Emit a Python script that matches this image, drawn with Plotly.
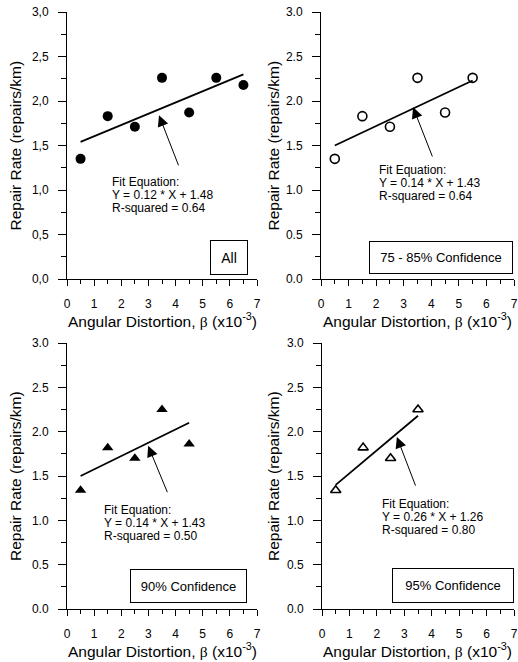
import plotly.graph_objects as go

# ---------------- data ----------------
x_all = [0.5, 1.5, 2.5, 3.5, 4.5, 5.5, 6.5]
y_all = [1.35, 1.83, 1.71, 2.26, 1.87, 2.26, 2.18]
fit_all_x = [0.5, 6.5]
fit_all_y = [1.54, 2.30]

x_75 = [0.5, 1.5, 2.5, 3.5, 4.5, 5.5]
y_75 = [1.35, 1.83, 1.71, 2.26, 1.87, 2.26]
fit_75_x = [0.5, 5.5]
fit_75_y = [1.50, 2.23]

x_90 = [0.5, 1.5, 2.5, 3.5, 4.5]
y_90 = [1.34, 1.82, 1.70, 2.25, 1.86]
fit_90_x = [0.5, 4.5]
fit_90_y = [1.50, 2.10]

x_95 = [0.5, 1.5, 2.5, 3.5]
y_95 = [1.34, 1.82, 1.70, 2.25]
fit_95_x = [0.5, 3.5]
fit_95_y = [1.40, 2.18]

x_ticks = [0, 1, 2, 3, 4, 5, 6, 7]
y_ticks = [0.0, 0.5, 1.0, 1.5, 2.0, 2.5, 3.0]
y_ticktext_comma = ["0,0", "0,5", "1,0", "1,5", "2,0", "2,5", "3,0"]
y_ticktext_dot = ["0.0", "0.5", "1.0", "1.5", "2.0", "2.5", "3.0"]

eq_lines = [
    ["Fit Equation:", "Y = 0.12 * X + 1.48", "R-squared = 0.64"],
    ["Fit Equation:", "Y = 0.14 * X + 1.43", "R-squared = 0.64"],
    ["Fit Equation:", "Y = 0.14 * X + 1.43", "R-squared = 0.50"],
    ["Fit Equation:", "Y = 0.26 * X + 1.26", "R-squared = 0.80"],
]
box_labels = ["All", "75 - 85% Confidence", "90% Confidence", "95% Confidence"]

FONT = "Liberation Sans, Arial, sans-serif"

fig = go.Figure()

panels = [
    dict(x=x_all, y=y_all, fx=fit_all_x, fy=fit_all_y, sym="circle", msize=10, open=False),
    dict(x=x_75, y=y_75, fx=fit_75_x, fy=fit_75_y, sym="circle-open", msize=9, open=True),
    dict(x=x_90, y=y_90, fx=fit_90_x, fy=fit_90_y, sym="triangle-up", msize=10, open=False),
    dict(x=x_95, y=y_95, fx=fit_95_x, fy=fit_95_y, sym="triangle-up-open", msize=9, open=True),
]

for i, p in enumerate(panels):
    n = "" if i == 0 else str(i + 1)
    fig.add_trace(go.Scatter(x=p["fx"], y=p["fy"], mode="lines",
                             line=dict(color="black", width=1.8),
                             xaxis="x" + n, yaxis="y" + n, showlegend=False, hoverinfo="skip"))
    fig.add_trace(go.Scatter(x=p["x"], y=p["y"], mode="markers",
                             marker=dict(symbol=p["sym"], size=p["msize"], color="black",
                                         line=dict(color="black", width=1.6 if p["open"] else 0)),
                             xaxis="x" + n, yaxis="y" + n, showlegend=False, cliponaxis=False))

xdomains = [[67/518, 257/518], [321/518, 514/518], [67/518, 257/518], [322/518, 514/518]]
ydomains = [[1-279/662, 1-12/662], [1-279/662, 1-12/662], [1-609/662, 1-343/662], [1-609/662, 1-343/662]]

layout = dict(
    width=518, height=662,
    margin=dict(l=0, r=0, t=0, b=0),
    paper_bgcolor="white", plot_bgcolor="white",
    font=dict(family=FONT, color="black", size=12),
    showlegend=False,
)

for i in range(4):
    n = "" if i == 0 else str(i + 1)
    layout["xaxis" + n] = dict(
        domain=xdomains[i], anchor="y" + n, range=[0, 7], automargin=False,
        tickvals=x_ticks, ticks="outside", ticklen=6, tickwidth=1, tickcolor="black",
        showline=True, linecolor="black", linewidth=1, showgrid=False, zeroline=False,
        tickfont=dict(size=12, family=FONT), ticklabelstandoff=8,
        minor=dict(dtick=0.5, tick0=0, ticks="outside", ticklen=4, tickwidth=1, tickcolor="black", showgrid=False),
    )
    layout["yaxis" + n] = dict(
        domain=ydomains[i], anchor="x" + n, range=[0, 3], automargin=False,
        tickvals=y_ticks, ticktext=y_ticktext_comma if i == 0 else y_ticktext_dot,
        ticks="outside", ticklen=8, tickwidth=1, tickcolor="black",
        showline=True, linecolor="black", linewidth=1, showgrid=False, zeroline=False,
        tickfont=dict(size=12, family=FONT), ticklabelstandoff=7,
        minor=dict(dtick=0.25, tick0=0, ticks="outside", ticklen=5, tickwidth=1, tickcolor="black", showgrid=False),
    )

fig.update_layout(**layout)

# arrows: (head x, head y, tail x, tail y)
arrows = [(3.39, 1.84, 4.13, 1.26), (3.34, 1.93, 4.06, 1.36), (2.99, 1.84, 3.72, 1.30), (2.73, 1.94, 3.43, 1.375)]
eq_pos = [(1.58, 0.944), (2.03, 1.079), (1.29, 0.970), (2.11, 1.037)]
box_pos = [(5.95, 0.247, 36, 33, 14), (4.35, 0.247, 142, 31, 13), (4.48, 0.254, 115, 32, 13), (4.78, 0.27, 120, 33, 13)]

xtitle = 'Angular Distortion, <span style="font-family:Liberation Serif, Times New Roman, serif">β</span> (x10<sup>-3</sup>)'
ytitle = "Repair Rate (repairs/km)"

for i in range(4):
    n = "" if i == 0 else str(i + 1)
    hx, hy, tx, ty = arrows[i]
    fig.add_annotation(x=hx, y=hy, ax=tx, ay=ty, xref="x" + n, yref="y" + n,
                       axref="x" + n, ayref="y" + n, text="", showarrow=True,
                       arrowhead=2, arrowsize=2.2, arrowwidth=1, arrowcolor="black", standoff=0)
    ex, ey = eq_pos[i]
    for k, line in enumerate(eq_lines[i]):
        fig.add_annotation(x=ex, y=ey, xref="x" + n, yref="y" + n, text=line, showarrow=False,
                           yshift=(1 - k) * 13,
                           xanchor="left", yanchor="middle", align="left", font=dict(size=12, family=FONT))
    bx, by, bw, bh, bs = box_pos[i]
    fig.add_annotation(x=bx, y=by, xref="x" + n, yref="y" + n, text=box_labels[i], showarrow=False,
                       xanchor="center", yanchor="middle", width=bw, height=bh, borderpad=0,
                       bordercolor="black", borderwidth=1, bgcolor="white", font=dict(size=bs, family=FONT))
    # axis titles
    xc = (xdomains[i][0] + xdomains[i][1]) / 2
    ytit = 1 - (320 if i < 2 else 650) / 662
    fig.add_annotation(x=xc, y=ytit, xref="paper", yref="paper", text=xtitle, showarrow=False,
                       xanchor="center", yanchor="middle", font=dict(size=15.5, family=FONT))
    yc = (ydomains[i][0] + ydomains[i][1]) / 2
    xt = (15 if i % 2 == 0 else 273) / 518
    fig.add_annotation(x=xt, y=yc, xref="paper", yref="paper", text=ytitle, showarrow=False,
                       textangle=-90, xanchor="center", yanchor="middle", font=dict(size=15.5, family=FONT))

fig.write_html("out.html", config={"displayModeBar": False},
               post_script="document.body.style.margin='0px';document.body.style.overflow='hidden';")
